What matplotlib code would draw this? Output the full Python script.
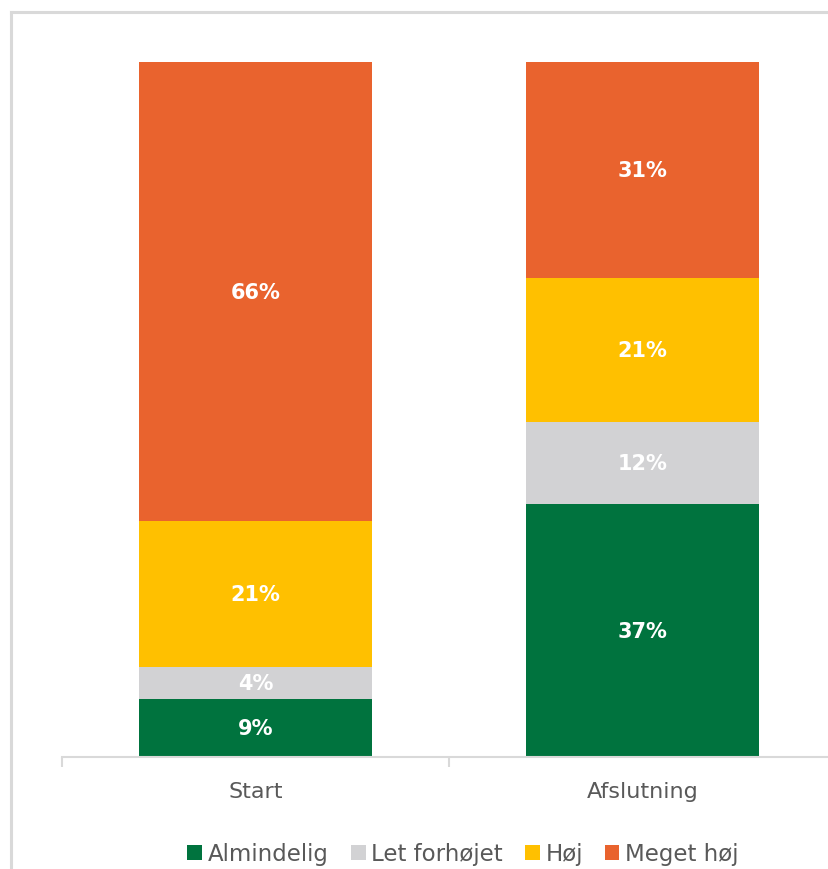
import matplotlib
matplotlib.use("Agg")
import matplotlib.pyplot as plt
from matplotlib.lines import Line2D
import numpy as np

categories = ["Start", "Afslutning"]
series_names = ["Almindelig", "Let forhøjet", "Høj", "Meget høj"]
# segment shares (percent of bar)
almindelig = [8.4, 36.4]
let_forhoejet = [4.5, 11.8]
hoej = [21.0, 20.7]
meget_hoej = [66.1, 31.1]
# data labels as printed on the chart
almindelig_labels = ["9%", "37%"]
let_forhoejet_labels = ["4%", "12%"]
hoej_labels = ["21%", "21%"]
meget_hoej_labels = ["66%", "31%"]
colors = ["#00733E", "#D2D2D4", "#FFC000", "#E9632E"]

plt.rcParams['font.family'] = ['DejaVu Sans']

W, H = 829, 870
fig = plt.figure(figsize=(W / 100, H / 100), dpi=100)

# outer frame (only top and left edges visible)
fig.lines.append(Line2D([11 / W, 1.0], [1 - 13 / H, 1 - 13 / H], transform=fig.transFigure,
                        color="#D9D9D9", linewidth=2.2))
fig.lines.append(Line2D([11 / W, 11 / W], [0, 1 - 13 / H], transform=fig.transFigure,
                        color="#D9D9D9", linewidth=2.2))

ax = fig.add_axes([62 / W, 1 - 758 / H, (836 - 62) / W, (758 - 63) / H])

data = np.array([almindelig, let_forhoejet, hoej, meget_hoej], dtype=float)
labels_all = [almindelig_labels, let_forhoejet_labels, hoej_labels, meget_hoej_labels]
totals = data.sum(axis=0)
frac = data / totals
x = np.arange(len(categories))
bottom = np.zeros(len(categories))
for i, name in enumerate(series_names):
    bars = ax.bar(x, frac[i], bottom=bottom, width=0.6, color=colors[i], label=name, linewidth=0)
    for j, b in enumerate(bars):
        ax.text(b.get_x() + b.get_width() / 2, bottom[j] + frac[i][j] / 2, labels_all[i][j],
                ha="center", va="center", color="white", fontsize=15, fontweight="bold")
    bottom += frac[i]

ax.set_xlim(-0.5, 1.5)
ax.set_ylim(0, 1)
for s in ["top", "right", "left"]:
    ax.spines[s].set_visible(False)
ax.spines["bottom"].set_color("#D9D9D9")
ax.spines["bottom"].set_linewidth(1.5)
ax.set_yticks([])
ax.set_xticks([-0.5, 0.5, 1.5], minor=False)
ax.set_xticklabels([])
ax.tick_params(axis="x", which="major", length=7, width=1.5, color="#D9D9D9", direction="out")
ax.set_xticks(x, minor=True)
ax.set_xticklabels(categories, minor=True, fontsize=16, color="#595959")
ax.tick_params(axis="x", which="minor", length=0, pad=17)

handles, labels = ax.get_legend_handles_labels()
leg = fig.legend(handles, labels, loc="center", bbox_to_anchor=(463 / W, 1 - 855 / H), ncol=4,
                 frameon=False, fontsize=16.5, handlelength=0.65, handleheight=0.65,
                 handletextpad=0.25, columnspacing=0.95, labelcolor="#595959")

fig.savefig("out.png", dpi=100)
